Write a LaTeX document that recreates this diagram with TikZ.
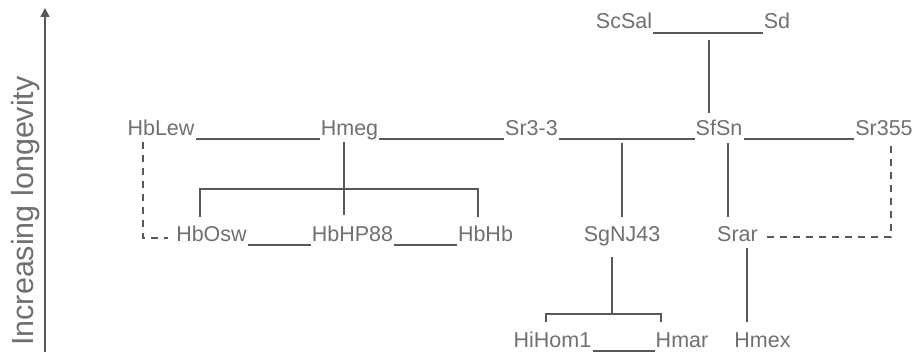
\documentclass[tikz,border=0pt]{standalone}
\usepackage{fontspec}
\setmainfont{Liberation Sans}
\usetikzlibrary{arrows.meta,calc}
\definecolor{txt}{RGB}{112,112,112}
\definecolor{ln}{RGB}{88,88,88}
\begin{document}
\begin{tikzpicture}[x=1pt,y=-1pt,
  lbl/.style={anchor=base,inner sep=0pt,text=txt,font=\fontsize{21.5}{24}\selectfont},
  link/.style={draw=ln,line width=1.2pt},
  dlink/.style={link,dash pattern=on 7pt off 6pt}]
\useasboundingbox[fill=white] (0,0) rectangle (916,352);

% axis
\coordinate (abot) at (45,352);
\coordinate (atop) at (45,8);
\draw[link,line width=1.4pt,-{Triangle[width=9pt,length=9pt]}] (abot) -- (atop);
\node[lbl,font=\fontsize{30.5}{32}\selectfont,rotate=90] (axlab) at (33,211) {Increasing longevity};

% row 1
\node[lbl] (ScSal) at (624,29) {ScSal};
\node[lbl] (Sd) at (777,29) {Sd};
% row 2
\node[lbl] (HbLew) at (161,136) {HbLew};
\node[lbl] (Hmeg) at (349.5,136) {Hmeg};
\node[lbl] (Sr33) at (531.5,136) {Sr3-3};
\node[lbl] (SfSn) at (719,136) {SfSn};
\node[lbl] (Sr355) at (884,136) {Sr355};
% row 3
\node[lbl] (HbOsw) at (211.5,242) {HbOsw};
\node[lbl] (HbHP88) at (352.5,242) {HbHP88};
\node[lbl] (HbHb) at (485.5,242) {HbHb};
\node[lbl] (SgNJ43) at (622,242) {SgNJ43};
\node[lbl] (Srar) at (737.5,242) {Srar};
% row 4
\node[lbl] (HiHom1) at (552.5,348) {HiHom1};
\node[lbl] (Hmar) at (682,348) {Hmar};
\node[lbl] (Hmex) at (762.5,348) {Hmex};

% underscore links
\draw[link] ([shift={(1,4)}]ScSal.base east) -- ([shift={(-1,4)}]Sd.base west);
\draw[link] ([shift={(1,3)}]HbLew.base east) -- ([shift={(-1,3)}]Hmeg.base west);
\draw[link] ([shift={(1,3)}]Hmeg.base east) -- ([shift={(-1,3)}]Sr33.base west);
\draw[link] ([shift={(1,3)}]Sr33.base east) -- ([shift={(-1,3)}]SfSn.base west);
\draw[link] ([shift={(1,3)}]SfSn.base east) -- ([shift={(-1,3)}]Sr355.base west);
\draw[link] ([shift={(1,3)}]HbOsw.base east) -- ([shift={(-1,3)}]HbHP88.base west);
\draw[link] ([shift={(1,3)}]HbHP88.base east) -- ([shift={(-1,3)}]HbHb.base west);
\draw[link] ([shift={(1,3)}]HiHom1.base east) -- ([shift={(-1,3)}]Hmar.base west);

% verticals and brackets
\coordinate (c1a) at (709,40);   \coordinate (c1b) at (709,113);
\draw[link] (c1a) -- (c1b);
\coordinate (h1) at (344,142);   \coordinate (h2) at (344,215);
\draw[link] (h1) -- (h2);
\coordinate (b1) at (200,217); \coordinate (b2) at (200,189);
\coordinate (b3) at (478,189); \coordinate (b4) at (478,217);
\draw[link] (b1) -- (b2) -- (b3) -- (b4);
\coordinate (g1) at (622,143);   \coordinate (g2) at (622,217);
\draw[link] (g1) -- (g2);
\coordinate (f1) at (728,143);   \coordinate (f2) at (728,217);
\draw[link] (f1) -- (f2);
\coordinate (s1) at (612,257);   \coordinate (s2) at (612,314);
\draw[link] (s1) -- (s2);
\coordinate (k1) at (546,322); \coordinate (k2) at (546,314);
\coordinate (k3) at (661,314); \coordinate (k4) at (661,322);
\draw[link] (k1) -- (k2) -- (k3) -- (k4);
\coordinate (m1) at (747,248);   \coordinate (m2) at (747,322);
\draw[link] (m1) -- (m2);

% dashed links
\coordinate (d1) at (143,142); \coordinate (d2) at (143,238); \coordinate (d3) at (168,238);
\draw[dlink] (d1) -- (d2) -- (d3);
\coordinate (r1) at (767,237); \coordinate (r2) at (891,237); \coordinate (r3) at (891,143);
\draw[dlink] (r1) -- (r2) -- (r3);
\end{tikzpicture}
\end{document}
